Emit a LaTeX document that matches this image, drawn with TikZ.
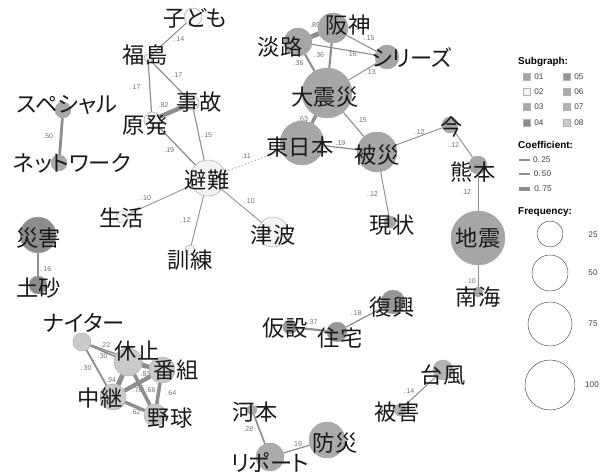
\documentclass[tikz,border=0pt]{standalone}
\usepackage{fontspec}
\setmainfont{Liberation Sans}
\newfontfamily\jpfont[RawFeature=+palt]{Noto Sans CJK JP}
\usetikzlibrary{backgrounds, positioning}
\definecolor{sg01}{HTML}{A6A6A6}
\definecolor{sg02}{HTML}{F4F4F4}
\definecolor{sg03}{HTML}{A9A9A9}
\definecolor{sg04}{HTML}{8C8C8C}
\definecolor{sg05}{HTML}{969696}
\definecolor{sg06}{HTML}{ABABAB}
\definecolor{sg07}{HTML}{B2B2B2}
\definecolor{sg08}{HTML}{CACACA}
\definecolor{linkgray}{HTML}{8E8E8E}
\definecolor{lblgray}{HTML}{707070}

\begin{document}
\begin{tikzpicture}[x=0.3mm, y=-0.3mm,
  kw/.style={circle, draw=gray!70, line width=0.4pt, inner sep=0pt,
             minimum size=#1*0.6mm},
  word/.style={font=\jpfont\fontsize{19}{19}\selectfont, inner sep=0pt,
               text=black!90},
  link/.style={draw=linkgray, line width={0.3pt+#1*4.2pt}},
  elbl/.style={font=\fontsize{6}{6}\selectfont, text=lblgray, inner sep=1.5pt},
  hdr/.style={font=\bfseries\fontsize{8.5}{8.5}\selectfont, anchor=west,
              inner sep=0pt},
  ltxt/.style={font=\fontsize{7}{7}\selectfont, text=black!75,
               anchor=west, inner sep=0pt},
  swatch/.style={draw=gray!60, line width=0.3pt, minimum size=2.1mm,
                 inner sep=0pt}
]
\useasboundingbox (0,0) rectangle (609,475);

% Subgraph 02: evacuation
\node[kw=9,  fill=sg02] (kodomo)   at (193,17)  {};
\node[kw=4,  fill=sg02] (fukushima) at (148,58) {};
\node[kw=7,  fill=sg02] (jiko)     at (192,103) {};
\node[kw=8,  fill=sg02] (genpatsu) at (152,120) {};
\node[kw=18, fill=sg02] (hinan)    at (208,178) {};
\node[kw=6,  fill=sg02] (seikatsu) at (122,217) {};
\node[kw=5,  fill=sg02] (kunren)   at (190,250) {};
\node[kw=15, fill=sg02] (tsunami)  at (273,232) {};

% Subgraph 03
\node[kw=8, fill=sg03] (special) at (63,110) {};
\node[kw=8, fill=sg03] (network) at (59,163) {};

% Subgraph 01: earthquakes
\node[kw=15, fill=sg01] (hanshin)  at (333,28)  {};
\node[kw=14, fill=sg01] (awaji)    at (298,42)  {};
\node[kw=12, fill=sg01] (series)   at (387,57)  {};
\node[kw=25, fill=sg01] (daishin)  at (327,93)  {};
\node[kw=22, fill=sg01] (higashi)  at (302,143) {};
\node[kw=20, fill=sg01] (hisai)    at (377,152) {};
\node[kw=8,  fill=sg01] (ima)      at (450,125) {};
\node[kw=9,  fill=sg01] (kumamoto) at (478,165) {};
\node[kw=27, fill=sg01] (jishin)   at (478,238) {};
\node[kw=5,  fill=sg01] (nankai)   at (478,292) {};
\node[kw=6,  fill=sg01] (genjou)   at (390,222) {};

% Subgraph 04
\node[kw=18, fill=sg04] (saigai) at (38,235) {};
\node[kw=9,  fill=sg04] (dosha)  at (38,285) {};

% Subgraph 05
\node[kw=12, fill=sg05] (fukkou)  at (393,302) {};
\node[kw=7,  fill=sg05] (kasetsu) at (290,327) {};
\node[kw=10, fill=sg05] (jutaku)  at (337,332) {};

% Subgraph 07
\node[kw=10, fill=sg07] (taifu) at (443,370) {};
\node[kw=6,  fill=sg07] (higai) at (400,410) {};

% Subgraph 06
\node[kw=5,  fill=sg06] (kawamoto) at (252,410) {};
\node[kw=14, fill=sg06] (report)   at (270,457) {};
\node[kw=18, fill=sg06] (bousai)   at (327,440) {};

% Subgraph 08: baseball
\node[kw=9,  fill=sg08] (nighter) at (82,342)  {};
\node[kw=14, fill=sg08] (kyushi)  at (128,362) {};
\node[kw=13, fill=sg08] (bangumi) at (162,370) {};
\node[kw=13, fill=sg08] (chukei)  at (113,397) {};
\node[kw=11, fill=sg08] (yakyu)   at (155,415) {};

% Co-occurrence links
\begin{scope}[on background layer]
\draw[link=0.14] (kodomo) -- (fukushima) node[elbl, midway, right=2pt] {.\,14};
\draw[link=0.17] (fukushima) -- (jiko) node[elbl, midway, above right] {.\,17};
\draw[link=0.17] (fukushima) -- (genpatsu) node[elbl, midway, left=6pt] {.\,17};
\draw[link=0.82] (genpatsu) -- (jiko) node[elbl, midway, above left] {.82};
\draw[link=0.15] (jiko) -- (hinan) node[elbl, midway, right] {.\,15};
\draw[link=0.19] (genpatsu) -- (hinan) node[elbl, midway, below left] {.19};
\draw[link=0.50] (special) -- (network) node[elbl, midway, left=4pt] {.50};
\draw[linkgray!70, line width=1pt, dotted] (hinan) -- (higashi)
  node[elbl, midway, above left] {.11};
\draw[link=0.10] (hinan) -- (seikatsu) node[elbl, pos=0.6, above left] {.\,10};
\draw[link=0.12] (hinan) -- (kunren) node[elbl, midway, left=4pt] {.\,12};
\draw[link=0.10] (hinan) -- (tsunami) node[elbl, midway, above right] {.\,10};

\draw[link=0.89] (hanshin) -- (awaji) node[elbl, midway, above=3pt] {.89};
\draw[link=0.15] (hanshin) -- (series) node[elbl, midway, above right] {.\,15};
\draw[link=0.16] (awaji) -- (series) node[elbl, midway, below right] {.\,16};
\draw[link=0.36] (hanshin) -- (daishin) node[elbl, midway, left=3pt] {.\,36};
\draw[link=0.36] (awaji) -- (daishin) node[elbl, midway, left=3pt] {.36};
\draw[link=0.13] (series) -- (daishin) node[elbl, midway, right] {.\,13};
\draw[link=0.63] (daishin) -- (higashi) node[elbl, midway, left=2pt] {.63};
\draw[link=0.15] (daishin) -- (hisai) node[elbl, midway, above right] {.\,15};
\draw[link=0.19] (higashi) -- (hisai) node[elbl, midway, above] {.19};
\draw[link=0.12] (hisai) -- (ima) node[elbl, midway, above] {.\,12};
\draw[link=0.12] (ima) -- (kumamoto) node[elbl, midway, left=2pt] {.\,12};
\draw[link=0.12] (kumamoto) -- (jishin) node[elbl, midway, left=4pt] {.\,12};
\draw[link=0.10] (jishin) -- (nankai) node[elbl, midway, below left] {.\,10};
\draw[link=0.12] (hisai) -- (genjou) node[elbl, midway, left=4pt] {.\,12};

\draw[link=0.16] (saigai) -- (dosha) node[elbl, midway, below right] {.\,16};
\draw[link=0.37] (kasetsu) -- (jutaku) node[elbl, midway, above=2pt] {.\,37};
\draw[link=0.18] (jutaku) -- (fukkou) node[elbl, midway, above left] {.\,18};
\draw[link=0.14] (taifu) -- (higai) node[elbl, midway, left=3pt] {.\,14};
\draw[link=0.28] (kawamoto) -- (report) node[elbl, midway, left=3pt] {.28};
\draw[link=0.19] (report) -- (bousai) node[elbl, midway, above] {.\,19};

\draw[link=0.30] (nighter) -- (kyushi) node[elbl, midway, below] {.30};
\draw[link=0.30] (nighter) -- (chukei) node[elbl, midway, left=2pt] {.\,30};
\draw[link=0.22] (nighter) -- (bangumi) node[elbl, pos=0.25, above] {.22};
\draw[link=0.94] (kyushi) -- (chukei) node[elbl, midway, left] {.94};
\draw[link=0.83] (kyushi) -- (bangumi) node[elbl, midway, below=1pt] {.83};
\draw[link=0.78] (chukei) -- (bangumi) node[elbl, midway, below] {.78};
\draw[link=0.66] (kyushi) -- (yakyu) node[elbl, midway, right] {.66};
\draw[link=0.64] (bangumi) -- (yakyu) node[elbl, midway, right=3pt] {.\,64};
\draw[link=0.62] (chukei) -- (yakyu) node[elbl, midway, below] {.\,62};
\end{scope}

% Words
\node[word] (kodomoT)   at (195,18)  {子ども};
\node[word] (fukushimaT) at (145,55) {福島};
\node[word] (jikoT)     at (199,102) {事故};
\node[word] (genpatsuT) at (145,125) {原発};
\node[word] (hinanT)    at (207,180) {避難};
\node[word] (seikatsuT) at (122,218) {生活};
\node[word] (kunrenT)   at (190,260) {訓練};
\node[word] (tsunamiT)  at (273,235) {津波};
\node[word] (specialT)  at (67,105)  {スペシャル};
\node[word] (networkT)  at (72,163)  {ネットワーク};
\node[word] (hanshinT)  at (348,25)  {阪神};
\node[word] (awajiT)    at (280,47)  {淡路};
\node[word] (seriesT)   at (412,58)  {シリーズ};
\node[word] (daishinT)  at (325,97)  {大震災};
\node[word] (higashiT)  at (300,147) {東日本};
\node[word] (hisaiT)    at (377,155) {被災};
\node[word] (imaT)      at (452,127) {今};
\node[word] (kumamotoT) at (473,172) {熊本};
\node[word] (jishinT)   at (478,238) {地震};
\node[word] (nankaiT)   at (478,297) {南海};
\node[word] (genjouT)   at (392,225) {現状};
\node[word] (saigaiT)   at (39,238)  {災害};
\node[word] (doshaT)    at (39,288)  {土砂};
\node[word] (fukkouT)   at (392,307) {復興};
\node[word] (kasetsuT)  at (285,328) {仮設};
\node[word] (jutakuT)   at (340,338) {住宅};
\node[word] (taifuT)    at (443,375) {台風};
\node[word] (higaiT)    at (397,412) {被害};
\node[word] (kawamotoT) at (255,412) {河本};
\node[word] (reportT)   at (270,463) {リポート};
\node[word] (bousaiT)   at (335,443) {防災};
\node[word] (nighterT)  at (84,323)  {ナイター};
\node[word] (kyushiT)   at (137,351) {休止};
\node[word] (bangumiT)  at (176,370) {番組};
\node[word] (chukeiT)   at (100,398) {中継};
\node[word] (yakyuT)    at (170,418) {野球};

% Legend: subgraph
\node[hdr] (sgH) at (518,62) {Subgraph:};
\node[swatch, fill=sg01] (sw01) at (527,77)  {};
\node[swatch, fill=sg02] (sw02) at (527,92)  {};
\node[swatch, fill=sg03] (sw03) at (527,107) {};
\node[swatch, fill=sg04] (sw04) at (527,123) {};
\node[swatch, fill=sg05] (sw05) at (567,77)  {};
\node[swatch, fill=sg06] (sw06) at (567,92)  {};
\node[swatch, fill=sg07] (sw07) at (567,107) {};
\node[swatch, fill=sg08] (sw08) at (567,123) {};
\node[ltxt, right=3pt of sw01] {01};
\node[ltxt, right=3pt of sw02] {02};
\node[ltxt, right=3pt of sw03] {03};
\node[ltxt, right=3pt of sw04] {04};
\node[ltxt, right=3pt of sw05] {05};
\node[ltxt, right=3pt of sw06] {06};
\node[ltxt, right=3pt of sw07] {07};
\node[ltxt, right=3pt of sw08] {08};

% Legend: coefficient
\node[hdr] (cfH) at (518,145) {Coefficient:};
\coordinate (c25) at (519,160);
\coordinate (c50) at (519,174);
\coordinate (c75) at (519,189);
\draw[link=0.25] (c25) -- ++(11,0) node[ltxt, right=2pt] {0.\,25};
\draw[link=0.50] (c50) -- ++(11,0) node[ltxt, right=2pt] {0.\,50};
\draw[link=0.75] (c75) -- ++(11,0) node[ltxt, right=2pt] {0.\,75};

% Legend: frequency
\node[hdr] (frH) at (518,212) {Frequency:};
\node[kw=13, draw=black!70, fill=none] (f25)  at (550,234) {};
\node[kw=18, draw=black!70, fill=none] (f50)  at (550,273) {};
\node[kw=22, draw=black!70, fill=none] (f75)  at (550,324) {};
\node[kw=25, draw=black!70, fill=none] (f100) at (550,385) {};
\node[ltxt, anchor=center] at (593,235) {25};
\node[ltxt, anchor=center] at (593,273) {50};
\node[ltxt, anchor=center] at (593,324) {75};
\node[ltxt, anchor=center] at (592,385) {100};

\end{tikzpicture}
\end{document}
